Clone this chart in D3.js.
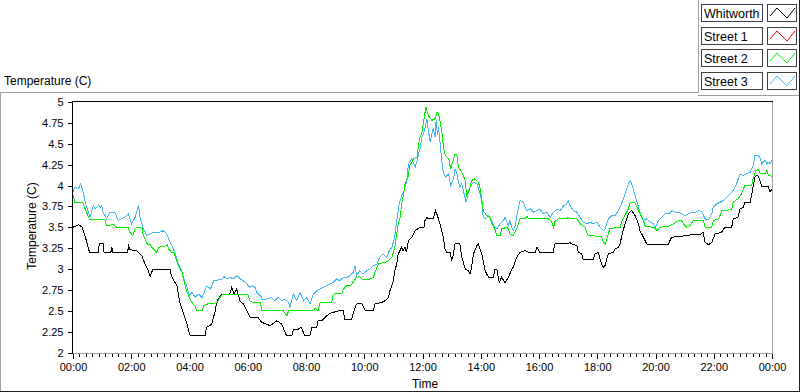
<!DOCTYPE html>
<html><head><meta charset="utf-8">
<script src="https://cdn.jsdelivr.net/npm/d3@7"></script>
<style>
body{margin:0;background:#fff}
svg{display:block}
text{font-family:"Liberation Sans",Arial,sans-serif;fill:#000}
</style>
</head><body>
<svg id="c" width="800" height="392"></svg>
<script>
// ---------- data ----------
const seriesNames = ["Whitworth", "Street 1", "Street 2", "Street 3"];
const seriesColors = ["#000000", "#ff0000", "#00ee00", "#44b8f4"];
const xTickMinutes = [0,120,240,360,480,600,720,840,960,1080,1200,1320,1440];
const xTickLabels = ["00:00","02:00","04:00","06:00","08:00","10:00","12:00","14:00","16:00","18:00","20:00","22:00","00:00"];
const yTickValues = [2,2.25,2.5,2.75,3,3.25,3.5,3.75,4,4.25,4.5,4.75,5];
const yTickLabels = ["2","2.25","2.5","2.75","3","3.25","3.5","3.75","4","4.25","4.5","4.75","5"];

// [minutes after midnight, temperature]
const whitworth = [[0,3.50],[12,3.53],[19,3.50],[27,3.35],[34,3.20],[52,3.20],[54,3.30],[62,3.30],[64,3.20],[78,3.20],[80,3.26],[82,3.20],[113,3.20],[114,3.30],[117,3.23],[131,3.22],[142,3.16],[148,3.06],[155,2.98],[159,2.91],[162,2.96],[165,3.00],[200,3.00],[203,2.91],[214,2.80],[220,2.60],[227,2.48],[234,2.36],[240,2.22],[243,2.20],[272,2.20],[275,2.30],[286,2.34],[293,2.50],[296,2.60],[299,2.64],[306,2.70],[323,2.70],[327,2.78],[332,2.70],[337,2.76],[344,2.62],[351,2.58],[358,2.50],[365,2.42],[381,2.42],[389,2.36],[399,2.34],[406,2.32],[420,2.38],[430,2.34],[440,2.20],[451,2.20],[454,2.28],[464,2.28],[470,2.30],[478,2.20],[488,2.20],[492,2.30],[502,2.30],[505,2.38],[512,2.38],[519,2.42],[529,2.47],[536,2.48],[547,2.50],[557,2.50],[560,2.39],[574,2.39],[577,2.47],[584,2.58],[595,2.59],[602,2.50],[619,2.50],[622,2.58],[636,2.60],[643,2.62],[650,2.66],[653,2.74],[660,2.86],[663,2.98],[667,3.06],[670,3.18],[677,3.26],[680,3.22],[684,3.26],[687,3.20],[691,3.34],[698,3.38],[705,3.46],[715,3.50],[723,3.50],[725,3.58],[729,3.62],[732,3.60],[742,3.60],[747,3.70],[753,3.60],[756,3.54],[763,3.38],[766,3.24],[770,3.20],[777,3.20],[780,3.10],[783,3.16],[787,3.30],[797,3.30],[801,3.14],[808,3.00],[814,2.98],[818,2.94],[821,3.02],[825,3.18],[832,3.28],[835,3.30],[842,3.18],[849,2.98],[856,2.90],[866,2.90],[869,3.00],[873,3.00],[878,2.84],[883,2.90],[890,2.84],[897,2.90],[904,3.00],[907,3.02],[914,3.14],[921,3.20],[931,3.22],[938,3.20],[952,3.20],[956,3.26],[962,3.20],[989,3.20],[993,3.30],[1020,3.30],[1024,3.32],[1027,3.30],[1038,3.28],[1041,3.20],[1048,3.18],[1051,3.11],[1072,3.11],[1075,3.18],[1082,3.20],[1086,3.11],[1092,3.02],[1096,3.04],[1099,3.11],[1103,3.18],[1113,3.20],[1117,3.24],[1123,3.26],[1127,3.30],[1130,3.38],[1137,3.54],[1144,3.66],[1151,3.70],[1158,3.64],[1165,3.54],[1168,3.46],[1175,3.38],[1182,3.30],[1195,3.29],[1226,3.29],[1233,3.38],[1264,3.40],[1275,3.41],[1292,3.41],[1298,3.44],[1302,3.32],[1309,3.29],[1316,3.32],[1323,3.42],[1336,3.44],[1343,3.50],[1357,3.50],[1360,3.60],[1370,3.62],[1374,3.72],[1381,3.74],[1384,3.80],[1395,3.80],[1401,3.98],[1405,4.10],[1408,4.12],[1412,4.11],[1419,3.99],[1432,3.99],[1436,3.92],[1440,3.96]];

const street1 = [];

const street2 = [[0,3.88],[4,3.80],[20,3.80],[25,3.72],[32,3.62],[35,3.59],[66,3.59],[69,3.52],[83,3.53],[90,3.50],[114,3.50],[117,3.44],[123,3.40],[128,3.48],[131,3.50],[142,3.49],[145,3.40],[148,3.36],[153,3.30],[159,3.29],[162,3.26],[173,3.20],[176,3.26],[187,3.27],[194,3.29],[197,3.24],[203,3.20],[208,3.20],[212,3.12],[217,3.04],[221,2.99],[224,2.98],[227,2.90],[231,2.80],[234,2.74],[241,2.64],[247,2.58],[251,2.56],[255,2.50],[266,2.50],[269,2.56],[276,2.58],[290,2.59],[297,2.60],[303,2.66],[307,2.69],[338,2.70],[359,2.70],[362,2.67],[364,2.62],[371,2.60],[386,2.60],[389,2.50],[433,2.50],[441,2.44],[444,2.50],[495,2.50],[499,2.53],[505,2.50],[509,2.60],[533,2.60],[536,2.70],[554,2.71],[557,2.76],[564,2.80],[574,2.81],[577,2.84],[584,2.90],[591,2.91],[595,2.88],[612,2.88],[619,2.90],[622,2.96],[629,3.06],[636,3.07],[643,3.08],[650,3.10],[657,3.14],[660,3.20],[663,3.26],[667,3.42],[670,3.54],[674,3.62],[677,3.78],[681,3.90],[684,4.02],[691,4.12],[694,4.24],[702,4.32],[709,4.34],[712,4.50],[715,4.58],[719,4.64],[722,4.76],[727,4.94],[732,4.84],[739,4.78],[746,4.80],[750,4.88],[753,4.86],[756,4.78],[760,4.64],[763,4.46],[767,4.36],[774,4.32],[778,4.20],[784,4.32],[787,4.38],[791,4.36],[794,4.22],[801,4.16],[808,4.06],[811,3.88],[817,3.96],[821,4.06],[828,4.08],[835,4.04],[839,3.96],[842,3.84],[845,3.70],[852,3.64],[859,3.62],[863,3.54],[869,3.48],[873,3.40],[880,3.40],[883,3.48],[894,3.50],[897,3.48],[900,3.42],[907,3.40],[914,3.48],[921,3.60],[931,3.60],[935,3.63],[938,3.60],[979,3.60],[986,3.57],[990,3.50],[993,3.57],[1000,3.60],[1017,3.60],[1020,3.62],[1024,3.60],[1038,3.60],[1045,3.54],[1055,3.50],[1059,3.43],[1062,3.40],[1089,3.39],[1093,3.32],[1097,3.30],[1101,3.39],[1106,3.48],[1113,3.49],[1127,3.50],[1130,3.56],[1137,3.64],[1144,3.72],[1148,3.80],[1158,3.79],[1165,3.70],[1172,3.62],[1175,3.58],[1179,3.51],[1196,3.50],[1203,3.46],[1209,3.50],[1227,3.51],[1237,3.54],[1247,3.58],[1253,3.58],[1258,3.54],[1264,3.50],[1271,3.52],[1278,3.58],[1299,3.58],[1302,3.50],[1316,3.50],[1319,3.58],[1330,3.60],[1337,3.70],[1357,3.71],[1360,3.80],[1370,3.84],[1377,3.90],[1384,4.00],[1398,4.00],[1401,4.08],[1407,4.18],[1412,4.19],[1416,4.14],[1426,4.14],[1429,4.18],[1433,4.12],[1440,4.11]];

const street3 = [[0,3.96],[1,3.94],[4,3.98],[11,3.96],[16,4.02],[20,3.94],[23,3.86],[27,3.76],[32,3.68],[35,3.62],[39,3.70],[42,3.76],[45,3.72],[52,3.76],[56,3.74],[59,3.76],[62,3.68],[66,3.64],[69,3.60],[73,3.64],[76,3.68],[80,3.68],[87,3.67],[93,3.58],[100,3.60],[107,3.62],[114,3.66],[121,3.54],[128,3.62],[135,3.76],[138,3.62],[145,3.48],[152,3.40],[159,3.42],[165,3.44],[172,3.44],[179,3.44],[186,3.46],[193,3.42],[200,3.32],[207,3.24],[212,3.16],[217,3.06],[224,2.98],[227,2.90],[231,2.84],[234,2.80],[240,2.68],[245,2.72],[252,2.66],[258,2.70],[266,2.66],[273,2.76],[276,2.80],[283,2.76],[290,2.86],[297,2.86],[300,2.88],[307,2.88],[311,2.91],[318,2.88],[324,2.90],[331,2.88],[338,2.92],[345,2.88],[351,2.86],[358,2.82],[364,2.78],[369,2.80],[375,2.78],[379,2.72],[386,2.68],[392,2.63],[400,2.64],[409,2.66],[416,2.62],[423,2.66],[430,2.62],[437,2.64],[444,2.60],[447,2.54],[454,2.70],[461,2.62],[468,2.72],[475,2.62],[481,2.66],[488,2.58],[495,2.70],[502,2.74],[509,2.76],[516,2.78],[523,2.80],[529,2.82],[536,2.84],[543,2.88],[550,2.86],[557,2.90],[564,2.90],[571,2.92],[577,2.96],[581,3.04],[584,2.92],[591,2.98],[598,2.94],[605,2.98],[612,3.00],[619,3.04],[626,3.06],[632,3.14],[639,3.18],[646,3.14],[650,3.20],[657,3.26],[662,3.36],[665,3.50],[669,3.66],[672,3.78],[677,3.88],[681,3.92],[684,3.98],[688,4.06],[691,4.26],[698,4.32],[702,4.26],[705,4.22],[709,4.30],[712,4.38],[715,4.44],[719,4.58],[722,4.62],[725,4.68],[729,4.80],[732,4.66],[736,4.52],[739,4.62],[742,4.68],[746,4.58],[748,4.78],[751,4.60],[753,4.70],[756,4.52],[760,4.28],[763,4.16],[767,4.10],[774,4.14],[778,4.00],[784,4.08],[787,4.20],[791,4.14],[794,4.04],[797,3.98],[801,4.02],[804,3.94],[810,3.80],[814,3.90],[818,3.98],[825,4.04],[832,4.02],[837,3.94],[842,3.82],[845,3.62],[849,3.60],[856,3.64],[863,3.58],[866,3.52],[873,3.48],[880,3.54],[887,3.58],[890,3.62],[894,3.56],[897,3.52],[900,3.58],[904,3.50],[907,3.46],[911,3.52],[914,3.62],[918,3.74],[921,3.82],[928,3.80],[931,3.74],[935,3.70],[942,3.72],[949,3.68],[956,3.70],[962,3.72],[969,3.66],[976,3.68],[983,3.62],[990,3.68],[997,3.72],[1004,3.70],[1011,3.76],[1017,3.78],[1020,3.82],[1024,3.76],[1031,3.70],[1038,3.68],[1045,3.62],[1051,3.56],[1058,3.54],[1065,3.56],[1072,3.54],[1079,3.56],[1086,3.50],[1093,3.46],[1096,3.48],[1103,3.60],[1110,3.64],[1117,3.64],[1123,3.70],[1130,3.78],[1134,3.84],[1141,3.96],[1144,4.02],[1148,4.06],[1151,4.02],[1155,3.94],[1161,3.82],[1168,3.68],[1175,3.58],[1182,3.60],[1189,3.56],[1196,3.54],[1200,3.50],[1206,3.58],[1213,3.62],[1220,3.66],[1227,3.66],[1234,3.70],[1241,3.68],[1248,3.68],[1254,3.66],[1261,3.64],[1268,3.66],[1275,3.68],[1282,3.68],[1289,3.70],[1296,3.68],[1302,3.60],[1309,3.59],[1316,3.66],[1319,3.74],[1326,3.78],[1333,3.80],[1340,3.82],[1347,3.86],[1354,3.90],[1360,3.94],[1367,4.02],[1374,4.14],[1381,4.12],[1388,4.14],[1395,4.16],[1401,4.24],[1405,4.36],[1412,4.36],[1416,4.32],[1419,4.26],[1422,4.28],[1426,4.30],[1429,4.26],[1433,4.28],[1436,4.26],[1440,4.30]];

const seriesData = [whitworth, street1, street2, street3];
const drawOrder = [0, 1, 3, 2];

// ---------- layout ----------
const svg = d3.select("#c");
const plotLeft = 73, plotRight = 772, plotTop = 102, plotBottom = 352.5;
const x = d3.scaleLinear().domain([0, 1440]).range([plotLeft, plotRight]);
const y = d3.scaleLinear().domain([2, 5]).range([plotBottom, plotTop]);

// outer frame
const frame = svg.append("g").attr("fill", "none").attr("shape-rendering", "crispEdges");
frame.append("path").attr("d", "M0.5,391 V92.5 H698.5 V0").attr("stroke", "#a0a0a0");
frame.append("path").attr("d", "M698,95.5 H799").attr("stroke", "#a0a0a0");
frame.append("path").attr("d", "M799.5,0 V391.5 H0").attr("stroke", "#202020");

// top-left label
svg.append("text").attr("x", 4).attr("y", 85).attr("font-size", 12).text("Temperature (C)");

// clip
svg.append("defs").append("clipPath").attr("id", "clip")
  .append("rect").attr("x", plotLeft - 0.5).attr("y", 101.5).attr("width", plotRight - plotLeft + 1).attr("height", 252);

// lines
const line = d3.line().x(d => x(d[0])).y(d => y(d[1]));
const plots = svg.append("g").attr("clip-path", "url(#clip)");
drawOrder.forEach(i => {
  if (!seriesData[i].length) return;
  plots.append("path").datum(seriesData[i])
    .attr("fill", "none").attr("stroke", seriesColors[i]).attr("stroke-width", 1)
    .attr("shape-rendering", "crispEdges")
    .attr("stroke-linejoin", "miter").attr("d", line);
});

// plot border
const pb = svg.append("g").attr("fill", "none").attr("shape-rendering", "crispEdges");
pb.append("path").attr("d", `M${plotLeft - 0.5},354 V101.5 H${plotRight + 0.5}`).attr("stroke", "#000");
pb.append("path").attr("d", `M${plotRight + 0.5},101.5 V353.5 H${plotLeft - 0.5}`).attr("stroke", "#a0a0a0");

// y axis
const yAxis = svg.append("g").attr("transform", `translate(${plotLeft - 1.5},0)`)
  .call(d3.axisLeft(y).tickValues(yTickValues).tickSize(4).tickPadding(4)
    .tickFormat((d, i) => yTickLabels[i]));
yAxis.select(".domain").remove();
yAxis.selectAll("line").attr("shape-rendering", "crispEdges").attr("stroke", "#000");
yAxis.selectAll("text").attr("font-size", 11).attr("font-family", '"Liberation Sans",Arial,sans-serif');

// x axis minor ticks
const minorTicks = d3.range(0, 1440.01, 1440 / 108);
const xMinor = svg.append("g").attr("transform", "translate(0,354)")
  .call(d3.axisBottom(x).tickValues(minorTicks).tickSize(3).tickFormat(""));
xMinor.select(".domain").remove();
xMinor.selectAll("line").attr("shape-rendering", "crispEdges").attr("stroke", "#000");

// x axis major
const xAxis = svg.append("g").attr("transform", "translate(0,354)")
  .call(d3.axisBottom(x).tickValues(xTickMinutes).tickSize(5).tickPadding(4)
    .tickFormat((d, i) => xTickLabels[i]));
xAxis.select(".domain").remove();
xAxis.selectAll("line").attr("shape-rendering", "crispEdges").attr("stroke", "#000");
xAxis.selectAll("text").attr("font-size", 11).attr("font-family", '"Liberation Sans",Arial,sans-serif');

// axis titles
svg.append("text").attr("transform", "translate(36,226) rotate(-90)")
  .attr("text-anchor", "middle").attr("font-size", 12).text("Temperature (C)");
svg.append("text").attr("x", 425).attr("y", 388).attr("text-anchor", "middle")
  .attr("font-size", 12).text("Time");

// legend
const lg = svg.append("g");
seriesNames.forEach((name, i) => {
  const t = 4 + Math.round(i * 22.7);
  lg.append("rect").attr("x", 701.5).attr("y", t + 0.5).attr("width", 61).attr("height", 17)
    .attr("fill", "#fff").attr("stroke", i === 0 ? "#3a3a5a" : "#404040").attr("shape-rendering", "crispEdges");
  lg.append("text").attr("x", 704).attr("y", t + 14).attr("font-size", 12.5).text(name);
  lg.append("rect").attr("x", 767.5).attr("y", t + 0.5).attr("width", 29).attr("height", 17)
    .attr("fill", "#fff").attr("stroke", "#404040").attr("shape-rendering", "crispEdges");
  lg.append("path").attr("d", `M${770},${t + 12} L${777},${t + 4} L${787},${t + 14} L${795},${t + 4}`)
    .attr("fill", "none").attr("stroke", seriesColors[i]).attr("stroke-width", 1);
});
</script>
</body></html>
